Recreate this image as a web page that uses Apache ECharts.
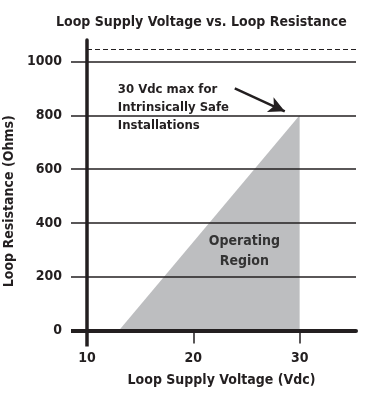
<!DOCTYPE html>
<html>
<head>
<meta charset="utf-8">
<script src="https://cdn.jsdelivr.net/npm/echarts@6/dist/echarts.min.js"></script>
<style>html,body{margin:0;padding:0;background:#fff}#c{width:383px;height:398px}</style>
</head>
<body>
<div id="c"></div>
<script>
// ---- data ----
var titleText = 'Loop Supply Voltage vs. Loop Resistance';
var xName = 'Loop Supply Voltage (Vdc)';
var yName = 'Loop Resistance (Ohms)';
var xTicks = [10, 20, 30];
var yTicks = [0, 200, 400, 600, 800, 1000];
var regionVoltage = [13, 30];      // Vdc
var regionResistance = [0, 800];   // Ohms
var dashedLimit = 1045;            // Ohms
var noteText = '30 Vdc max for\nIntrinsically Safe\nInstallations';
var notePos = [12.9, 829];
var arrowFrom = [23.9, 900];
var arrowTo = [28.6, 815];
var regionText = 'Operating\nRegion';
var regionPos = [24.8, 296];

var FONT = "'DejaVu Sans Condensed', 'Liberation Sans Narrow', sans-serif";
var INK = '#231f20';

var chart = echarts.init(document.getElementById('c'));
chart.setOption({
  animation: false,
  backgroundColor: '#fff',
  title: {
    text: titleText, left: 51, top: 10,
    textStyle: {fontFamily: FONT, fontSize: 14, fontWeight: 'bold', color: INK}
  },
  grid: {left: 87, right: 27, top: 40, bottom: 67.5, containLabel: false, outerBoundsMode: 'none'},
  xAxis: [{
    type: 'value', min: 10, max: 35.3, z: 3,
    name: xName, nameLocation: 'middle', nameGap: 43,
    nameTextStyle: {fontFamily: FONT, fontSize: 14, fontWeight: 'bold', color: INK},
    axisLine: {show: true, onZero: false, lineStyle: {color: INK, width: 4}},
    axisTick: {show: true, customValues: xTicks, length: 13, lineStyle: {color: INK, width: 1.5}},
    axisLabel: {customValues: xTicks, margin: 21, fontFamily: FONT, fontSize: 14, fontWeight: 'bold', color: INK,
      formatter: function (v) { return String(v); }},
    splitLine: {show: false}
  }, {
    type: 'value', min: 10, max: 35.3, position: 'bottom', z: 3,
    axisLine: {show: false},
    axisTick: {show: true, customValues: [xTicks[0]], length: 16, lineStyle: {color: INK, width: 3.5}},
    axisLabel: {show: false}, splitLine: {show: false}
  }],
  yAxis: [{
    type: 'value', min: 0, max: 1080, z: 3,
    name: yName, nameLocation: 'middle', nameGap: 62, nameRotate: 90,
    nameTextStyle: {fontFamily: FONT, fontSize: 14, fontWeight: 'bold', color: INK, padding: [0, 32, 0, 0]},
    axisLine: {show: true, onZero: false, lineStyle: {color: INK, width: 3.5}},
    axisTick: {show: true, customValues: yTicks, length: 16, lineStyle: {color: INK, width: 1.5}},
    axisLabel: {customValues: yTicks, margin: 25, fontFamily: FONT, fontSize: 14, fontWeight: 'bold', color: INK,
      formatter: function (v) { return String(v); }},
    splitLine: {show: false}
  }, {
    type: 'value', min: 0, max: 1080, position: 'left', z: 3,
    axisLine: {show: false},
    axisTick: {show: true, customValues: [yTicks[0]], length: 16, lineStyle: {color: INK, width: 4}},
    axisLabel: {show: false}, splitLine: {show: false}
  }],
  series: [{
    type: 'line', z: 1,
    data: regionVoltage.map(function (v, i) { return [v, regionResistance[i]]; }),
    symbol: 'none',
    lineStyle: {width: 0},
    areaStyle: {color: '#bdbec0', opacity: 1},
    markLine: {
      silent: true, animation: false, symbol: 'none', z: 4,
      label: {show: false},
      data: yTicks.slice(1).map(function (v) {
        return {yAxis: v, lineStyle: {type: 'solid', width: 1.5, color: INK}};
      }).concat([
        {yAxis: dashedLimit, lineStyle: {type: [5, 3], width: 1, color: INK}},
        [{coord: arrowFrom, symbol: 'none', lineStyle: {type: 'solid', width: 2.5, color: INK}},
         {coord: arrowTo, symbol: 'arrow', symbolSize: [12, 16]}]
      ])
    },
    markPoint: {
      silent: true, animation: false, symbol: 'circle', symbolSize: 0,
      data: [
        {coord: notePos, label: {show: true, formatter: noteText, position: 'right', distance: 0, align: 'left',
          fontFamily: FONT, fontSize: 13, fontWeight: 'bold', color: INK, lineHeight: 18}},
        {coord: regionPos, label: {show: true, formatter: regionText, position: 'inside', align: 'center',
          fontFamily: FONT, fontSize: 14, fontWeight: 'bold', color: '#333', lineHeight: 20}}
      ]
    }
  }]
});
</script>
</body>
</html>
